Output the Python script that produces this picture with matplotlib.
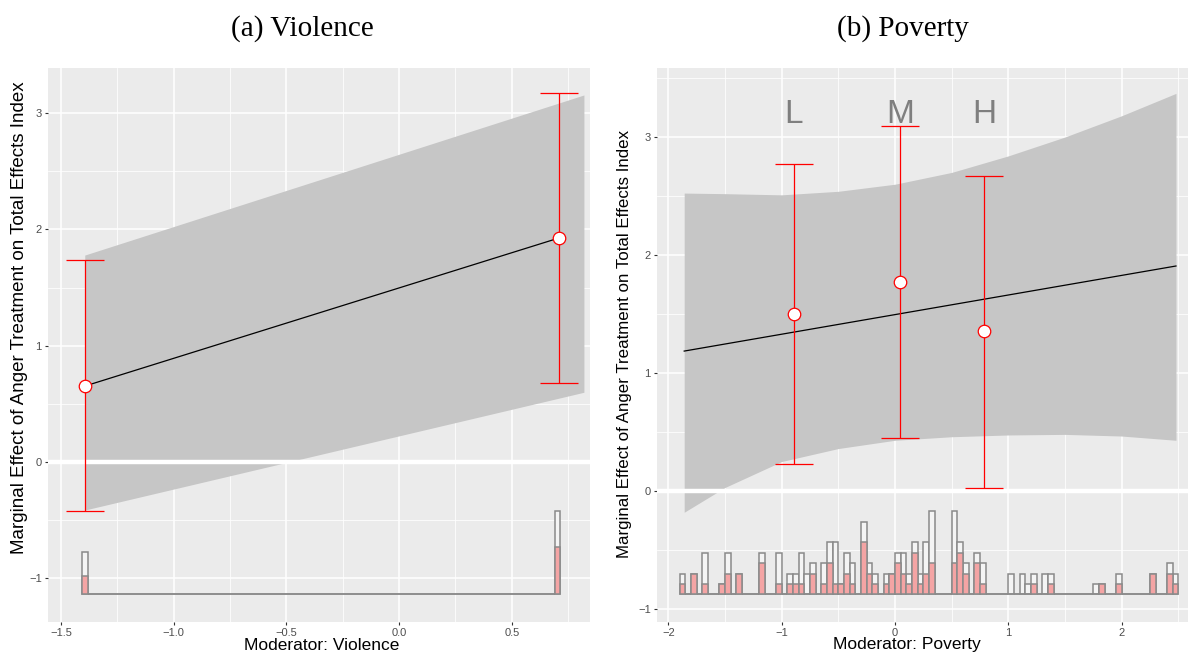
import matplotlib
matplotlib.use("Agg")
import matplotlib.pyplot as plt
import numpy as np

plt.rcParams['font.family'] = ['Liberation Sans', 'DejaVu Sans']

# ---- (a) Violence ----
vio_line_x = [-1.394, 0.708]
vio_line_y = [0.653, 1.926]
vio_band_x = [-1.394, 0.82]
vio_band_lo = [-0.413, 0.60]
vio_band_hi = [1.78, 3.157]
vio_pt_x = [-1.394, 0.708]
vio_pt_y = [0.653, 1.926]
vio_pt_lo = [-0.421, 0.679]
vio_pt_hi = [1.737, 3.173]
vio_hist_lim = (-1.405, 0.714)
vio_total = [52] + [0] * 88 + [101]
vio_treated = [22] + [0] * 88 + [57]

# ---- (b) Poverty ----
pov_line_x = [-1.86, 2.48]
pov_line_y = [1.186, 1.907]
pov_band_x = [-1.86, -1.5, -1.0, -0.5, 0.0, 0.5, 1.0, 1.5, 2.0, 2.48]
pov_band_hi = [2.525, 2.52, 2.51, 2.54, 2.60, 2.70, 2.84, 3.00, 3.18, 3.37]
pov_band_lo = [-0.18, 0.03, 0.25, 0.36, 0.43, 0.46, 0.475, 0.48, 0.466, 0.43]
pov_pt_x = [-0.891, 0.044, 0.786]
pov_pt_y = [1.50, 1.771, 1.356]
pov_pt_lo = [0.229, 0.449, 0.025]
pov_pt_hi = [2.77, 3.09, 2.669]
pov_pt_labels = ['L', 'M', 'H']
pov_hist_lim = (-1.9, 2.5)
pov_total = [2, 0, 2, 0, 4, 0, 0, 1, 4, 0, 2, 0, 0, 0, 4, 0, 0, 4, 0, 2,
             2, 4, 2, 3, 0, 3, 5, 5, 1, 4, 3, 0, 7, 3, 2, 0, 2, 2, 4, 4,
             2, 5, 2, 5, 8, 0, 0, 0, 8, 5, 3, 0, 4, 3, 0, 0, 0, 0, 2, 0,
             2, 1, 2, 0, 2, 2, 0, 0, 0, 0, 0, 0, 0, 1, 1, 0, 0, 2, 0, 0,
             0, 0, 0, 2, 0, 0, 3, 2]
pov_treated = [1, 0, 2, 0, 1, 0, 0, 1, 2, 0, 2, 0, 0, 0, 3, 0, 0, 1, 0, 1,
               1, 1, 0, 2, 0, 1, 3, 1, 1, 2, 1, 0, 5, 2, 1, 0, 1, 2, 3, 2,
               1, 4, 1, 2, 3, 0, 0, 0, 3, 4, 2, 0, 3, 1, 0, 0, 0, 0, 0, 0,
               0, 0, 1, 0, 0, 1, 0, 0, 0, 0, 0, 0, 0, 0, 1, 0, 0, 1, 0, 0,
               0, 0, 0, 2, 0, 0, 2, 1]

BG = '#EBEBEB'
RED = '#FF0000'
PINK = '#F4A4A4'
BAND = '#C6C6C6'
EDGE = '#8A8A8A'


def style_axes(ax, xlim, ylim, xmaj, xmin, ymaj, ymin, xfmt):
    ax.set_facecolor(BG)
    ax.set_xlim(*xlim)
    ax.set_ylim(*ylim)
    for s in ax.spines.values():
        s.set_visible(False)
    ax.set_xticks(xmaj)
    ax.set_xticklabels([xfmt(v) for v in xmaj])
    ax.set_xticks(xmin, minor=True)
    ax.set_yticks(ymaj)
    ax.set_yticklabels([str(v).replace('-', '\u2212') for v in ymaj])
    ax.set_yticks(ymin, minor=True)
    ax.grid(which='major', color='white', lw=1.1)
    ax.grid(which='minor', color='white', lw=0.55)
    ax.set_axisbelow(True)
    ax.tick_params(which='major', length=2.5, width=0.8, color='#333333',
                   labelsize=8, labelcolor='#4D4D4D', pad=2)
    ax.tick_params(which='minor', length=0)


def draw_hist(ax, lim, total, treated, ylim):
    edges = np.linspace(lim[0], lim[1], len(total) + 1)
    w = edges[1] - edges[0]
    span = ylim[1] - ylim[0]
    base = ylim[0] + 0.05 * span
    scale = 0.15 * span / max(total)
    tot = np.array(total) * scale
    trt = np.array(treated) * scale
    ax.bar(edges[:-1], tot, width=w, bottom=base, align='edge',
           facecolor='#F4F4F4', edgecolor=EDGE, lw=1.1, zorder=3)
    ax.bar(edges[:-1], trt, width=w, bottom=base, align='edge',
           facecolor=PINK, edgecolor=EDGE, lw=1.1, zorder=3)


def draw_est(ax, lx, ly, bx, blo, bhi, px, py, plo, phi):
    ax.fill_between(bx, blo, bhi, color=BAND, lw=0, zorder=2)
    ax.axhline(0, color='white', lw=3.2, zorder=2.5)
    ax.plot(lx, ly, color='black', lw=0.9, zorder=4)
    py = np.array(py)
    yerr = [py - np.array(plo), np.array(phi) - py]
    ax.errorbar(px, py, yerr=yerr, fmt='o', color=RED, ecolor=RED,
                elinewidth=0.9, capsize=13.5, capthick=0.9,
                markerfacecolor='white', markeredgecolor=RED,
                markeredgewidth=0.9, markersize=9, zorder=5)


fig = plt.figure(figsize=(11.9, 6.54), dpi=100)
W, H = 1190, 654


def axes_px(l, t, r, b):
    return fig.add_axes([l / W, 1 - b / H, (r - l) / W, (b - t) / H])


ylab = 'Marginal Effect of Anger Treatment on Total Effects Index'

# panel a
ax1 = axes_px(48, 68, 590, 622)
ylim1 = (-1.376, 3.389)
style_axes(ax1, (-1.557, 0.847), ylim1,
           [-1.5, -1.0, -0.5, 0.0, 0.5], [-1.25, -0.75, -0.25, 0.25, 0.75],
           [-1, 0, 1, 2, 3], [-0.5, 0.5, 1.5, 2.5],
           lambda v: f'{v:.1f}'.replace('-', '\u2212'))
draw_hist(ax1, vio_hist_lim, vio_total, vio_treated, ylim1)
draw_est(ax1, vio_line_x, vio_line_y, vio_band_x, vio_band_lo, vio_band_hi,
         vio_pt_x, vio_pt_y, vio_pt_lo, vio_pt_hi)

# panel b
ax2 = axes_px(657, 68, 1188, 622)
ylim2 = (-1.11, 3.585)
style_axes(ax2, (-2.10, 2.586), ylim2,
           [-2, -1, 0, 1, 2], [-1.5, -0.5, 0.5, 1.5, 2.5],
           [-1, 0, 1, 2, 3], [-0.5, 0.5, 1.5, 2.5, 3.5],
           lambda v: str(v).replace('-', '\u2212'))
draw_hist(ax2, pov_hist_lim, pov_total, pov_treated, ylim2)
draw_est(ax2, pov_line_x, pov_line_y, pov_band_x, pov_band_lo, pov_band_hi,
         pov_pt_x, pov_pt_y, pov_pt_lo, pov_pt_hi)
for x, lab in zip(pov_pt_x, pov_pt_labels):
    ax2.text(x, 3.19, lab, ha='center', va='center', fontsize=24,
             color='#7F7F7F', zorder=6)

# titles and axis labels
fig.text(302 / W, 1 - 29 / H, '(a) Violence', ha='center', va='center',
         fontsize=21, family='Liberation Serif')
fig.text(903 / W, 1 - 29 / H, '(b) Poverty', ha='center', va='center',
         fontsize=21, family='Liberation Serif')
fig.text(20 / W, 1 - 318 / H, ylab, rotation=90, ha='center', va='center',
         fontsize=13.5)
fig.text(625 / W, 1 - 344 / H, ylab, rotation=90, ha='center', va='center',
         fontsize=12.2)
fig.text(322 / W, 1 - 645 / H, 'Moderator: Violence', ha='center',
         va='center', fontsize=12.5)
fig.text(907 / W, 1 - 645 / H, 'Moderator: Poverty', ha='center',
         va='center', fontsize=12.5)

fig.savefig('out.png', dpi=100)
